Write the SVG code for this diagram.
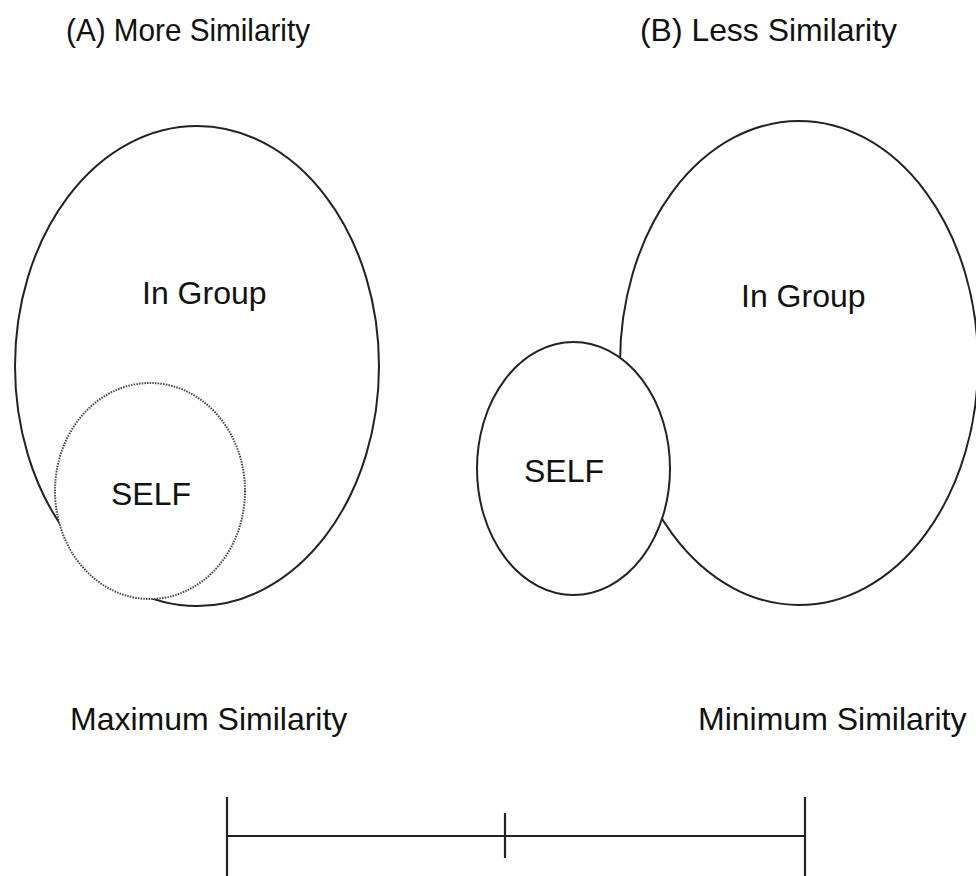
<svg xmlns="http://www.w3.org/2000/svg" width="976" height="876" viewBox="0 0 976 876">
  <style>
    .lbl { font-family: "Liberation Sans", Arial, sans-serif; font-size: 32px; fill: #111; }
    .solid { fill: #fff; stroke: #222; stroke-width: 2; }
    .dotted { fill: #fff; stroke: #444; stroke-width: 2; stroke-dasharray: 1.5 1.2; }
    .scale { stroke: #222; stroke-width: 2.2; fill: none; }
  </style>
  <rect width="976" height="876" fill="#fff"/>

  <!-- Panel titles -->
  <text class="lbl" x="66" y="41" textLength="244" lengthAdjust="spacingAndGlyphs">(A) More Similarity</text>
  <text class="lbl" x="640" y="41" textLength="257" lengthAdjust="spacingAndGlyphs">(B)  Less Similarity</text>

  <!-- Panel A: self inside the in-group -->
  <g id="groupA">
    <ellipse class="solid" cx="197" cy="366" rx="182" ry="240"/>
    <text class="lbl" x="142" y="304">In Group</text>
  </g>
  <g id="selfA">
    <ellipse class="dotted" cx="150" cy="491" rx="95" ry="108"/>
    <text class="lbl" x="111" y="505">SELF</text>
  </g>

  <!-- Panel B: self outside the in-group -->
  <g id="groupB">
    <ellipse class="solid" cx="799" cy="363" rx="179" ry="242"/>
    <text class="lbl" x="741" y="307">In Group</text>
  </g>
  <g id="selfB">
    <ellipse class="solid" cx="573.5" cy="468.5" rx="96.5" ry="126.5"/>
    <text class="lbl" x="524" y="482">SELF</text>
  </g>

  <!-- Similarity scale -->
  <text class="lbl" x="70" y="730">Maximum Similarity</text>
  <text class="lbl" x="698" y="730">Minimum Similarity</text>
  <g id="connectors">
    <line class="scale" x1="227" y1="836" x2="805" y2="836"/>
    <line class="scale" x1="227" y1="797" x2="227" y2="876"/>
    <line class="scale" x1="505" y1="813" x2="505" y2="858"/>
    <line class="scale" x1="805" y1="797" x2="805" y2="876"/>
  </g>
</svg>
